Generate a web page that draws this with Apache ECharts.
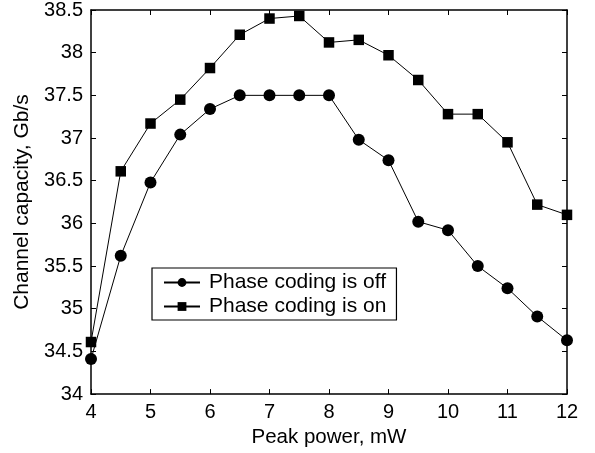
<!DOCTYPE html>
<html>
<head>
<meta charset="utf-8">
<script src="https://cdn.jsdelivr.net/npm/echarts@6/dist/echarts.min.js"></script>
<style>
  html, body { margin: 0; padding: 0; background: #fff; }
  #chart { width: 595px; height: 453px; }
</style>
</head>
<body>
<div id="chart"></div>
<script>
const peakPower = [4, 4.5, 5, 5.5, 6, 6.5, 7, 7.5, 8, 8.5, 9, 9.5, 10, 10.5, 11, 11.5, 12];
const codingOff = [34.41, 35.62, 36.48, 37.04, 37.34, 37.5, 37.5, 37.5, 37.5, 36.98, 36.74, 36.02, 35.92, 35.5, 35.24, 34.91, 34.63];
const codingOn = [34.61, 36.61, 37.17, 37.45, 37.82, 38.21, 38.4, 38.43, 38.12, 38.15, 37.97, 37.68, 37.28, 37.28, 36.95, 36.22, 36.1];

const font = "'Liberation Sans', Arial, sans-serif";
const chart = echarts.init(document.getElementById("chart"));

const pairs = (ys) => peakPower.map((x, i) => [x, ys[i]]);

// shared look for the box axes
const boxAxis = {
  type: "value",
  axisLine: { show: true, onZero: false, lineStyle: { color: "#000", width: 1.5 } },
  axisTick: { show: true, inside: true, length: 5, lineStyle: { color: "#000", width: 1 } },
  splitLine: { show: false },
};

chart.setOption({
  animation: false,
  backgroundColor: "#fff",
  textStyle: { fontFamily: font },
  grid: { left: 91, right: 28, top: 8, bottom: 54 },
  legend: {
    orient: "vertical",
    left: 152,
    top: 268,
    padding: [4, 10, 3, 11],
    itemGap: 3,
    itemWidth: 36,
    itemHeight: 11,
    borderColor: "#000",
    borderWidth: 1.2,
    borderRadius: 0,
    backgroundColor: "#fff",
    textStyle: { fontFamily: font, fontSize: 21, color: "#000", padding: [0, 0, 0, 4] },
    data: ["Phase coding is off", "Phase coding is on"],
  },
  xAxis: [
    {
      ...boxAxis,
      min: 4, max: 12, interval: 1,
      position: "bottom",
      name: "Peak power, mW",
      nameLocation: "middle",
      nameGap: 28,
      nameTextStyle: { fontFamily: font, fontSize: 20.5, color: "#000" },
      axisLabel: { color: "#000", fontSize: 20, fontFamily: font, margin: 8 },
    },
    {
      ...boxAxis,
      min: 4, max: 12, interval: 1,
      position: "top",
      axisLabel: { show: false },
    },
  ],
  yAxis: [
    {
      ...boxAxis,
      min: 34, max: 38.5, interval: 0.5,
      position: "left",
      name: "Channel capacity, Gb/s",
      nameLocation: "middle",
      nameGap: 55,
      nameTextStyle: { fontFamily: font, fontSize: 21, color: "#000" },
      axisLabel: { color: "#000", fontSize: 20, fontFamily: font, margin: 8 },
    },
    {
      ...boxAxis,
      min: 34, max: 38.5, interval: 0.5,
      position: "right",
      axisLabel: { show: false },
    },
  ],
  series: [
    {
      name: "Phase coding is off",
      type: "line",
      data: pairs(codingOff),
      symbol: "circle",
      symbolSize: 12,
      itemStyle: { color: "#000" },
      lineStyle: { color: "#000", width: 1 },
    },
    {
      name: "Phase coding is on",
      type: "line",
      data: pairs(codingOn),
      symbol: "rect",
      symbolSize: 10.5,
      itemStyle: { color: "#000" },
      lineStyle: { color: "#000", width: 1 },
    },
  ],
});
</script>
</body>
</html>
